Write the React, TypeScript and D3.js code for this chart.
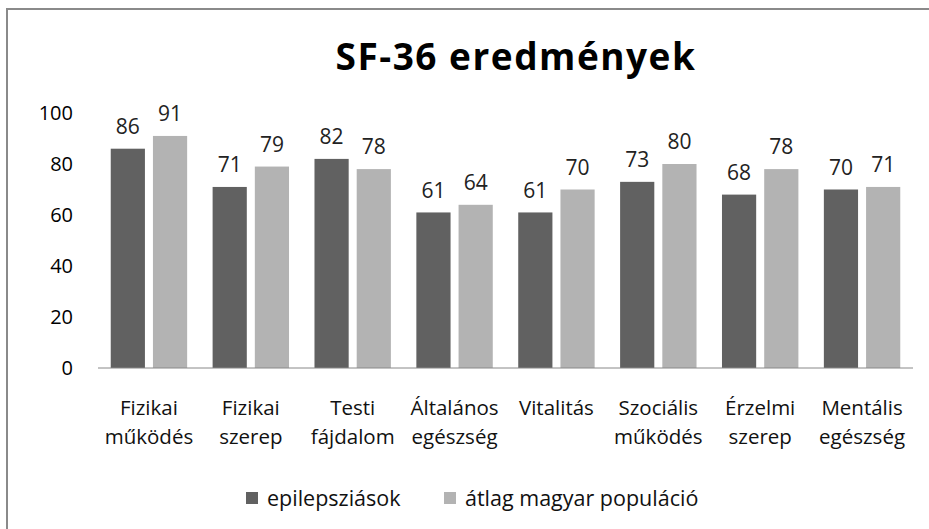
import React, { useEffect, useRef } from 'react';
import * as d3 from 'd3';

const categories = [
  ['Fizikai', 'működés'],
  ['Fizikai', 'szerep'],
  ['Testi', 'fájdalom'],
  ['Általános', 'egészség'],
  ['Vitalitás'],
  ['Szociális', 'működés'],
  ['Érzelmi', 'szerep'],
  ['Mentális', 'egészség'],
];
const seriesNames = ['epilepsziások', 'átlag magyar populáció'];
const epilepsy = [86, 71, 82, 61, 61, 73, 68, 70];
const population = [91, 79, 78, 64, 70, 80, 78, 71];
const yTicks = [0, 20, 40, 60, 80, 100];
const colors = ['#616161', '#b3b3b3'];

const FONT = '"Open Sans", Lato, sans-serif';

const App = () => {
  const svgRef = useRef<SVGSVGElement>(null);

  useEffect(() => {
    const svg = d3.select(svgRef.current);
    svg.selectAll('*').remove();

    const W = 929, H = 529;
    const left = 98, right = 913, top = 113, bottom = 368;

    svg.append('rect')
      .attr('x', 7).attr('y', 9)
      .attr('width', W + 20).attr('height', H + 20)
      .attr('fill', '#fff').attr('stroke', '#8a8a8a').attr('stroke-width', 2);

    svg.append('text')
      .attr('x', 516).attr('y', 70)
      .attr('text-anchor', 'middle')
      .attr('font-family', FONT).attr('font-weight', 'bold')
      .attr('font-size', 37).attr('letter-spacing', 1.5).attr('fill', '#000')
      .text('SF-36 eredmények');

    const x0 = d3.scaleBand<number>()
      .domain(d3.range(categories.length))
      .range([left, right])
      .paddingInner(0.25)
      .paddingOuter(0.125);

    const x1 = d3.scaleBand<number>()
      .domain([0, 1])
      .range([0, x0.bandwidth()])
      .paddingInner(0.19);

    const y = d3.scaleLinear().domain([0, 100]).range([bottom, top]);

    // y tick labels
    svg.append('g').selectAll('text')
      .data(yTicks).enter().append('text')
      .attr('x', 73).attr('y', d => y(d))
      .attr('dy', '0.35em')
      .attr('text-anchor', 'end')
      .attr('font-family', FONT).attr('font-size', 20).attr('fill', '#000')
      .text(d => d);

    const data = [epilepsy, population];

    const groups = svg.append('g').selectAll('g')
      .data(d3.range(categories.length)).enter().append('g')
      .attr('transform', i => `translate(${x0(i)},0)`);

    groups.selectAll('rect')
      .data(i => data.map((s, k) => ({ k, v: s[i] })))
      .enter().append('rect')
      .attr('x', d => x1(d.k)!)
      .attr('y', d => y(d.v))
      .attr('width', x1.bandwidth())
      .attr('height', d => bottom - y(d.v))
      .attr('fill', d => colors[d.k]);

    groups.selectAll('text.val')
      .data(i => data.map((s, k) => ({ k, v: s[i] })))
      .enter().append('text')
      .attr('class', 'val')
      .attr('x', d => x1(d.k)! + x1.bandwidth() / 2)
      .attr('y', d => y(d.v) - 22)
      .attr('dy', '0.35em')
      .attr('text-anchor', 'middle')
      .attr('font-family', FONT).attr('font-size', 21).attr('fill', '#222')
      .text(d => d.v);

    // x axis line
    svg.append('line')
      .attr('x1', left).attr('x2', right)
      .attr('y1', bottom).attr('y2', bottom)
      .attr('stroke', '#888').attr('stroke-width', 1);

    // category labels
    const cat = svg.append('g').selectAll('text')
      .data(categories).enter().append('text')
      .attr('x', (d, i) => x0(i)! + x0.bandwidth() / 2)
      .attr('y', 408)
      .attr('text-anchor', 'middle')
      .attr('font-family', FONT).attr('font-size', 20.5).attr('fill', '#111');
    cat.selectAll('tspan')
      .data(d => d).enter().append('tspan')
      .attr('x', function () { return (this.parentNode as SVGTextElement).getAttribute('x'); })
      .attr('y', (d, j) => 408 + j * 29)
      .attr('dy', '0.35em')
      .text(d => d);

    // legend
    const legendX = [246, 444];
    const lg = svg.append('g').selectAll('g')
      .data(seriesNames).enter().append('g')
      .attr('transform', (d, i) => `translate(${legendX[i]},498)`);
    lg.append('rect')
      .attr('x', 0).attr('y', -6).attr('width', 12).attr('height', 12)
      .attr('fill', (d, i) => colors[i]);
    lg.append('text')
      .attr('x', 21).attr('dy', '0.35em')
      .attr('font-family', FONT).attr('font-size', 21.5).attr('fill', '#111')
      .text(d => d);
  }, []);

  return (
    <svg ref={svgRef} width={929} height={529}
      style={{ position: 'absolute', left: 0, top: 0, display: 'block' }} />
  );
};

export default App;
